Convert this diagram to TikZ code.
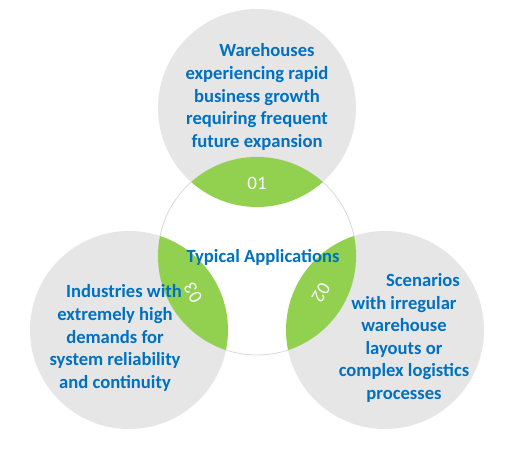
\documentclass[tikz,border=0pt]{standalone}
\usepackage{fontspec}
\setmainfont{Carlito}
\definecolor{circgray}{HTML}{E6E6E6}
\definecolor{ringgray}{HTML}{D9D9D9}
\definecolor{lensgreen}{HTML}{92D050}
\definecolor{textblue}{HTML}{0070C0}
\tikzset{
  desc/.style={text=textblue, font=\fontsize{18.6}{22.6}\selectfont\bfseries, align=center, inner sep=0pt},
  num/.style={text=white, font=\fontsize{19}{22}\selectfont, inner sep=0pt},
}
\begin{document}
\begin{tikzpicture}[x=1pt,y=-1pt]
\useasboundingbox[fill=white] (0,0) rectangle (514,453);
\coordinate (C) at (257,256);
\coordinate (T) at (257,108);
\coordinate (L) at (129,330);
\coordinate (R) at (385,330);
\foreach \p in {T,L,R} \fill[circgray] (\p) circle[radius=99pt];
\draw[fill=white, draw=ringgray, line width=0.8pt] (C) circle[radius=99pt];
\foreach \p in {T,L,R} {
  \begin{scope}
    \clip (C) circle[radius=99pt];
    \fill[lensgreen] (\p) circle[radius=99pt];
  \end{scope}
}
\node[desc] (ttop) at (257,97) {\hspace*{20pt}Warehouses\\experiencing rapid\\business growth\\requiring frequent\\future expansion};
\node[desc] (tleft) at (115,338) {\hspace*{18pt}Industries with\\extremely high\\demands for\\system reliability\\and continuity};
\node[desc] (tright) at (404,338) {\hspace*{38pt}Scenarios\\with irregular\\warehouse\\layouts or\\complex logistics\\processes};
\node[desc] (center) at (263,257) {Typical Applications};
\node[num] (n1) at (257,183) {01};
\node[num, rotate=-120] (n2) at (321,293) {02};
\node[num, rotate=120] (n3) at (193,293) {03};
\end{tikzpicture}
\end{document}
